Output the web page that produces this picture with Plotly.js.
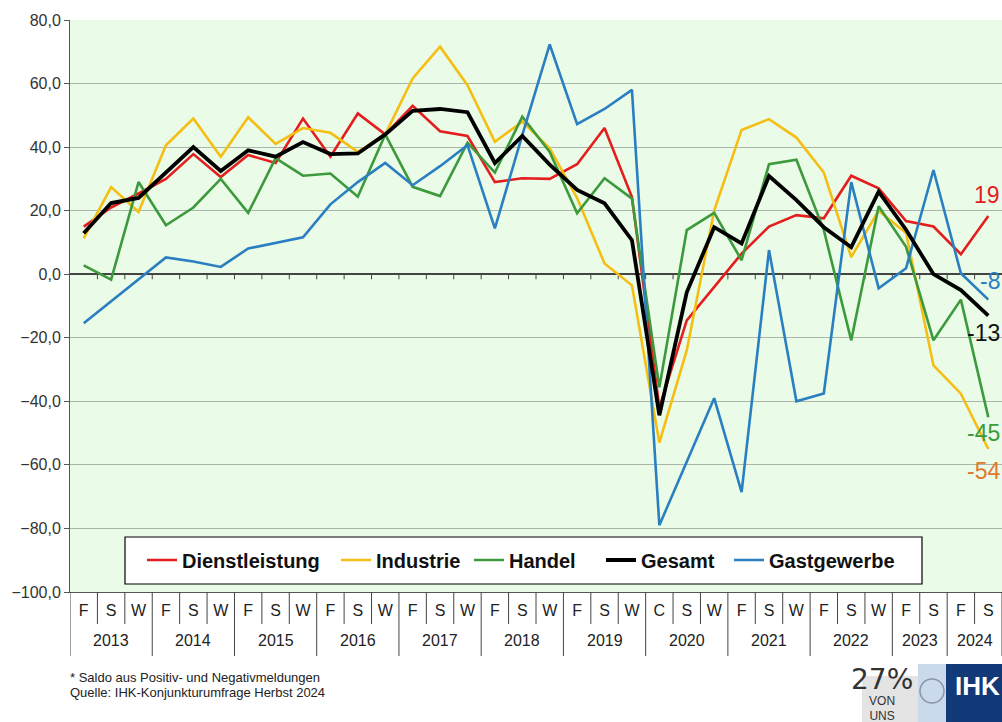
<!DOCTYPE html>
<html>
<head>
<meta charset="utf-8">
<script src="https://cdn.plot.ly/plotly-3.0.1.min.js"></script>
<style>
  body { margin: 0; background: #fff; }
  #chart { width: 1002px; height: 722px; }
</style>
</head>
<body>
<div id="chart"></div>
<script>
// Saldo pro Umfrage (F = Frühjahr, S = Sommer/Herbst, W = Winter, C = Corona-Sonderumfrage)
const years = ['2013','2013','2013','2014','2014','2014','2015','2015','2015','2016','2016','2016',
  '2017','2017','2017','2018','2018','2018','2019','2019','2019','2020','2020','2020',
  '2021','2021','2021','2022','2022','2022','2023','2023','2024','2024'];
const seasons = ['F','S','W','F','S','W','F','S','W','F','S','W',
  'F','S','W','F','S','W','F','S','W','C','S','W',
  'F','S','W','F','S','W','F','S','F','S'];

const dienstleistung = [15, 21, 25.4, 30, 37.8, 30.6, 37.5, 35, 49, 37, 50.6, 44,
  53, 45, 43.5, 29, 30.2, 30, 34.6, 46, 24.3, -42, -14.5, -4,
  6.5, 15, 18.6, 17.6, 31, 27, 16.7, 15, 6.3, 18.3];
const industrie = [11.3, 27.4, 19.6, 40.6, 49, 37, 49.4, 41, 46, 44.5, 38.5, 44,
  61.6, 71.6, 59.5, 41.7, 48, 39.6, 24, 3.4, -3.5, -53, -24, 20,
  45.4, 48.8, 43, 32, 5.4, 20, 13, -28.7, -37.6, -55];
const handel = [2.8, -1.7, 29, 15.4, 21, 30, 19.3, 36.5, 31, 31.7, 24.4, 44,
  27.5, 24.6, 41.4, 32, 49.6, 38.5, 19.2, 30.2, 23.8, -35.6, 13.9, 19.3,
  4.4, 34.6, 36, 13.9, -20.8, 21.4, 8.6, -20.8, -8, -45];
const gesamt = [12.9, 22.4, 24, 32, 40, 32.5, 39, 37, 41.6, 37.8, 38, 44,
  51.4, 52, 51, 35, 43.5, 34.5, 26.5, 22.3, 10.7, -44.4, -5.7, 14.8,
  9.7, 30.9, 23.3, 14.8, 8.5, 26, 14, 0, -5, -13];
const gastgewerbe = [-15.4, -8.5, -1.6, 5.3, 4, 2.3, 8.1, 9.9, 11.6, 22, 29, 35,
  28, 34, 40.6, 14.4, 43.8, 72.3, 47.2, 52, 58, -79, -59, -39,
  -68.6, 7.6, -40, -37.5, 29, -4.4, 1.9, 32.8, 0.3, -8];

// Endwerte rechts am Rand
const endLabels = ['19', '-8', '-13', '-45', '-54'];
const endLabelY = [25, -2, -18.5, -50, -62];
const endLabelColors = ['#e41e1e', '#2a7fc1', '#111111', '#3c9a3c', '#e0782e'];

// one slot per survey, labels come from seasons/years
const idx = seasons.map((s, i) => i);

function line(name, y, color, width, legend) {
  return {
    type: 'scatter', mode: 'lines', name: name,
    x: idx, y: y, legend: legend,
    line: { color: color, width: width },
    hoverinfo: 'name+y'
  };
}

const traces = [
  line('Dienstleistung', dienstleistung, '#e41e1e', 2.6, 'legend'),
  line('Industrie', industrie, '#f5be12', 2.6, 'legend2'),
  line('Handel', handel, '#3c9a3c', 2.6, 'legend3'),
  line('Gastgewerbe', gastgewerbe, '#2a7fc1', 2.6, 'legend5'),
  line('Gesamt', gesamt, '#000000', 3.8, 'legend4')
];

// pixel -> paper helpers for the footer and logo
const L = 70, R = 1002, T = 20, B = 592;
const px = v => (v - L) / (R - L);
const py = v => (B - v) / (B - T);
const narrow = 'Liberation Sans Narrow, Liberation Sans, Arial, sans-serif';
const sans = 'Liberation Sans, Arial, sans-serif';

const annotations = endLabels.map((t, i) => ({
  xref: 'paper', yref: 'y', x: 1, y: endLabelY[i],
  text: t, showarrow: false, xanchor: 'right', yanchor: 'middle',
  font: { family: sans, size: 23, color: endLabelColors[i] }
}));

// year labels centred under their seasons
const yearList = [...new Set(years)];
yearList.forEach(yr => {
  const pos = idx.filter(i => years[i] === yr);
  annotations.push({
    xref: 'x', yref: 'paper', x: (pos[0] + pos[pos.length - 1]) / 2, y: py(640),
    text: yr, showarrow: false, xanchor: 'center', yanchor: 'middle',
    font: { family: narrow, size: 16, color: '#222' }
  });
});

function note(text, xPx, yPx, font, xanchor) {
  annotations.push({ xref: 'paper', yref: 'paper', x: px(xPx), y: py(yPx), text: text,
    showarrow: false, xanchor: xanchor || 'center', yanchor: 'middle', font: font });
}
note('* Saldo aus Positiv- und Negativmeldungen', 68, 677, { family: narrow, size: 13, color: '#222' }, 'left');
note('Quelle: IHK-Konjunkturumfrage Herbst 2024', 68, 692, { family: narrow, size: 13, color: '#222' }, 'left');
// logo text as one block so the lines keep their spacing
note('<span style="font-size:28px;font-family:DejaVu Sans">27%</span><br>VON<br>UNS', 882, 693,
  { family: sans, size: 12, color: '#333' });
note('<b>IHK</b>', 977, 686, { family: sans, size: 26, color: '#ffffff' });

const shapes = [
  // legend frame
  { type: 'rect', xref: 'paper', yref: 'paper', x0: px(125), x1: px(922), y0: py(584), y1: py(537),
    fillcolor: '#ffffff', line: { color: '#000000', width: 1.2 } },
  // logo blocks
  { type: 'rect', xref: 'paper', yref: 'paper', x0: px(862), x1: px(918), y0: py(722), y1: py(676),
    fillcolor: '#e4e4e4', line: { width: 0 }, layer: 'below' },
  { type: 'rect', xref: 'paper', yref: 'paper', x0: px(918), x1: px(948), y0: py(722), y1: py(664),
    fillcolor: '#cbd9ec', line: { width: 0 } },
  { type: 'rect', xref: 'paper', yref: 'paper', x0: px(946), x1: px(1002), y0: py(722), y1: py(664),
    fillcolor: '#123a78', line: { width: 0 } },
  { type: 'circle', xref: 'paper', yref: 'paper', x0: px(920), x1: px(944), y0: py(703), y1: py(679),
    fillcolor: 'rgba(0,0,0,0)', line: { color: '#8896a8', width: 1.5 } }
];

// boundaries between surveys: short ticks on the zero line, separators in the label rows
for (let i = -1; i < idx.length; i++) {
  const b = i + 0.5;
  const yearEdge = i < 0 || i === idx.length - 1 || years[i] !== years[i + 1];
  if (i >= 0 && i < idx.length - 1) {
    shapes.push({ type: 'line', xref: 'x', yref: 'y', x0: b, x1: b, y0: 0, y1: -1.6,
      line: { color: '#444', width: 1 }, layer: 'below' });
  }
  shapes.push({ type: 'line', xref: 'x', yref: 'paper', x0: b, x1: b, y0: 0,
    y1: py(yearEdge ? 656 : 624), line: { color: '#444', width: 1 } });
}

// one legend per entry so the spacing inside the frame can follow the original
function legendAt(xPx) {
  return {
    orientation: 'h', xref: 'paper', yref: 'paper',
    x: px(xPx), y: py(560), xanchor: 'left', yanchor: 'middle',
    bgcolor: 'rgba(0,0,0,0)', borderwidth: 0, itemwidth: 30,
    font: { family: sans, size: 20, color: '#111', weight: 'bold' }
  };
}

const layout = {
  width: 1002, height: 722,
  margin: { l: L, r: 0, t: T, b: 722 - B },
  paper_bgcolor: '#ffffff',
  plot_bgcolor: '#eafbe8',
  separators: ',.',
  showlegend: true,
  legend: legendAt(142),
  legend2: legendAt(336),
  legend3: legendAt(469),
  legend4: legendAt(601),
  legend5: legendAt(729),
  xaxis: {
    range: [-0.5, idx.length - 0.5],
    tickmode: 'array', tickvals: idx, ticktext: seasons,
    showgrid: false, zeroline: false,
    showline: true, linecolor: '#555', linewidth: 1,
    ticks: '', ticklabelstandoff: 4,
    tickfont: { family: narrow, size: 16, color: '#222' }
  },
  yaxis: {
    range: [-100, 80], dtick: 20, tickformat: '.1f',
    showgrid: true, gridcolor: '#a9b6a9', gridwidth: 1,
    zeroline: true, zerolinecolor: '#444', zerolinewidth: 1.5,
    showline: true, linecolor: '#555', linewidth: 1,
    ticks: 'outside', ticklen: 5, tickcolor: '#555',
    tickfont: { family: sans, size: 16, color: '#333' }
  },
  annotations: annotations,
  shapes: shapes
};

Plotly.newPlot('chart', traces, layout, { displayModeBar: false, staticPlot: true });
</script>
</body>
</html>
